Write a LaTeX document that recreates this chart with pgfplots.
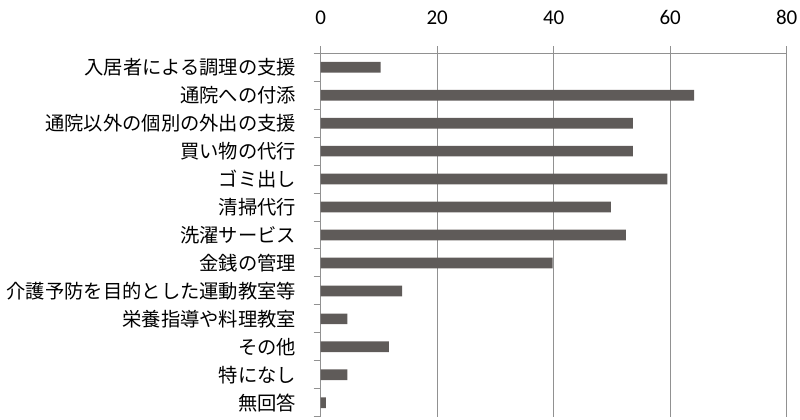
\documentclass[border=0pt]{standalone}
\usepackage{fontspec}
\setmainfont{Carlito}
\newfontfamily\cjk{Noto Sans CJK JP}
\usepackage{pgfplots}
\pgfplotsset{compat=1.18}
\definecolor{barcol}{RGB}{95,91,89}
\definecolor{gridcol}{RGB}{145,145,145}

\begin{document}
\begin{tikzpicture}
\begin{axis}[
    at={(320.7bp,-53.3bp)}, anchor=north west,
    scale only axis,
    width=466bp, height=363.4bp,
    xmin=0, xmax=80,
    ymin=-0.5, ymax=12.5,
    y dir=reverse,
    axis x line*=top, axis y line*=left,
    axis line style={gridcol, line width=1bp, -},
    tick align=outside,
    major tick length=7bp,
    tick style={gridcol, line width=1bp},
    xtick={0,20,...,80},
    xmajorgrids,
    grid style={gridcol, line width=1bp},
    xticklabel style={font=\fontsize{21bp}{24bp}\selectfont, anchor=south, yshift=18bp},
    /pgf/number format/assume math mode=true,
    ytick={-0.5,0.5,...,12.5},
    yticklabels={入居者による調理の支援, 通院への付添, 通院以外の個別の外出の支援,
        買い物の代行, ゴミ出し, 清掃代行, 洗濯サービス, 金銭の管理,
        介護予防を目的とした運動教室等, 栄養指導や料理教室, その他, 特になし, 無回答, {}},
    yticklabel style={font=\cjk\fontsize{19.3bp}{22bp}\selectfont, anchor=east,
        xshift=-14bp, yshift=-13.97bp},
    xbar, bar width=10.7bp, bar shift=0pt,
]
\addplot[fill=barcol, draw=none] coordinates {
    (10.3,0) (64.1,1) (53.6,2) (53.6,3) (59.5,4) (49.8,5) (52.4,6)
    (39.8,7) (14.0,8) (4.6,9) (11.7,10) (4.6,11) (0.9,12)
};
\end{axis}
\pgfresetboundingbox
\path[use as bounding box] (0,0) rectangle (800bp,-420bp);
\end{tikzpicture}
\end{document}
